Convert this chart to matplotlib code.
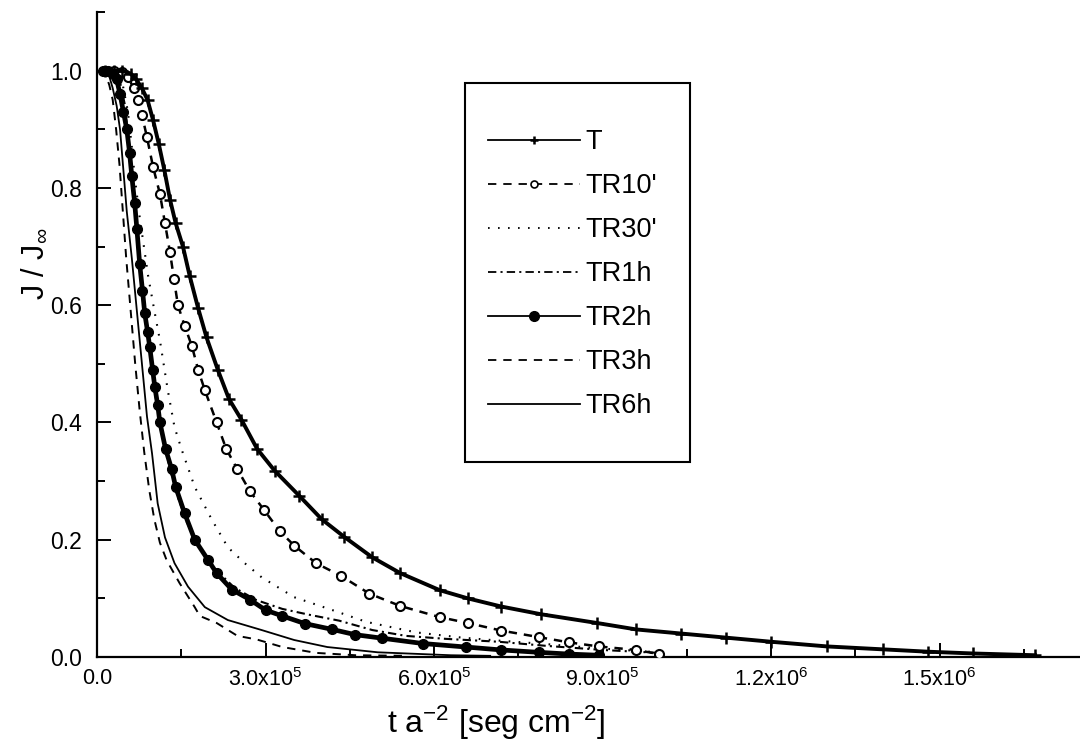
import matplotlib
matplotlib.use("Agg")
import matplotlib.pyplot as plt
from matplotlib import font_manager
from matplotlib.patches import Rectangle
from matplotlib.ticker import MultipleLocator, FixedLocator, FixedFormatter

# ---------------------------------------------------------------- data
X_SCALE = 1e5  # x values below are given in units of 1e5 seg cm^-2

T_x = [0.15, 0.30, 0.45, 0.60, 0.70, 0.80, 0.90, 1.00, 1.10, 1.20, 1.30, 1.40,
       1.53, 1.65, 1.80, 1.95, 2.15, 2.35, 2.57, 2.85, 3.16, 3.60, 4.00, 4.40,
       4.90, 5.40, 6.10, 6.60, 7.20, 7.90, 8.90, 9.60, 10.4, 11.2, 12.0, 13.0,
       14.0, 14.8, 15.6, 16.7]
T_y = [1.000, 1.000, 1.000, 0.995, 0.985, 0.970, 0.950, 0.915, 0.875, 0.830,
       0.780, 0.740, 0.700, 0.650, 0.595, 0.545, 0.490, 0.440, 0.405, 0.355,
       0.318, 0.275, 0.235, 0.205, 0.170, 0.143, 0.114, 0.100, 0.086, 0.073,
       0.058, 0.047, 0.040, 0.033, 0.026, 0.018, 0.013, 0.009, 0.006, 0.003]

TR10_x = [0.15, 0.30, 0.45, 0.55, 0.65, 0.73, 0.80, 0.89, 1.00, 1.12, 1.21,
          1.30, 1.37, 1.44, 1.56, 1.69, 1.80, 1.92, 2.13, 2.30, 2.50, 2.72,
          2.98, 3.25, 3.51, 3.90, 4.35, 4.85, 5.40, 6.10, 6.60, 7.20, 7.86,
          8.40, 8.93, 9.60, 10.0]
TR10_y = [1.000, 1.000, 0.998, 0.990, 0.970, 0.950, 0.925, 0.886, 0.835, 0.790,
          0.740, 0.690, 0.645, 0.600, 0.565, 0.530, 0.490, 0.455, 0.400, 0.355,
          0.320, 0.283, 0.250, 0.215, 0.190, 0.160, 0.138, 0.108, 0.087, 0.068,
          0.058, 0.045, 0.034, 0.025, 0.018, 0.012, 0.005]

TR30_x = [0.10, 0.30, 0.45, 0.55, 0.62, 0.67, 0.76, 0.91, 1.03, 1.12, 1.26,
          1.38, 1.51, 1.74, 2.04, 2.33, 2.63, 2.93, 3.51, 4.19, 4.79, 5.68,
          6.50, 7.15, 8.00, 8.90, 10.0]
TR30_y = [1.000, 1.000, 0.980, 0.930, 0.870, 0.820, 0.750, 0.650, 0.586, 0.540,
          0.455, 0.392, 0.353, 0.290, 0.235, 0.187, 0.160, 0.136, 0.102, 0.080,
          0.060, 0.042, 0.033, 0.028, 0.022, 0.015, 0.008]

TR1h_x = [0.10, 0.25, 0.40, 0.50, 0.58, 0.65, 0.72, 0.80, 0.88, 0.96, 1.05,
          1.15, 1.30, 1.45, 1.60, 1.80, 2.10, 2.45, 2.84, 3.30, 3.78, 4.31,
          4.90, 5.50, 6.20, 7.15, 8.00, 9.00, 10.0]
TR1h_y = [1.000, 1.000, 0.985, 0.940, 0.860, 0.790, 0.710, 0.630, 0.565, 0.505,
          0.440, 0.385, 0.320, 0.270, 0.230, 0.190, 0.150, 0.118, 0.097, 0.082,
          0.072, 0.062, 0.046, 0.036, 0.031, 0.026, 0.019, 0.012, 0.007]

TR2h_x = [0.10, 0.20, 0.28, 0.35, 0.41, 0.47, 0.53, 0.58, 0.62, 0.67, 0.71,
          0.76, 0.81, 0.85, 0.90, 0.94, 0.99, 1.03, 1.08, 1.12, 1.22, 1.33,
          1.40, 1.56, 1.74, 1.98, 2.13, 2.40, 2.72, 3.00, 3.30, 3.70, 4.19,
          4.60, 5.08, 5.80, 6.57, 7.20, 7.86, 8.40, 8.93]
TR2h_y = [1.000, 1.000, 0.995, 0.985, 0.960, 0.930, 0.900, 0.860, 0.820, 0.775,
          0.730, 0.670, 0.625, 0.586, 0.555, 0.528, 0.490, 0.460, 0.430, 0.400,
          0.355, 0.320, 0.290, 0.245, 0.200, 0.165, 0.143, 0.115, 0.098, 0.080,
          0.070, 0.057, 0.047, 0.038, 0.032, 0.023, 0.017, 0.012, 0.008, 0.005,
          0.003]

TR3h_x = [0.05, 0.15, 0.22, 0.28, 0.34, 0.40, 0.46, 0.52, 0.60, 0.68, 0.76,
          0.84, 0.93, 1.02, 1.12, 1.24, 1.47, 1.74, 1.83, 2.13, 2.50, 2.84,
          3.30, 3.90, 4.60, 5.50]
TR3h_y = [1.000, 0.995, 0.975, 0.950, 0.900, 0.840, 0.760, 0.680, 0.590, 0.500,
          0.420, 0.350, 0.285, 0.235, 0.195, 0.165, 0.126, 0.085, 0.070, 0.058,
          0.036, 0.030, 0.017, 0.007, 0.003, 0.002]

TR6h_x = [0.05, 0.15, 0.22, 0.28, 0.35, 0.41, 0.47, 0.53, 0.62, 0.71, 0.80,
          0.89, 0.98, 1.08, 1.21, 1.38, 1.62, 1.92, 2.33, 2.93, 3.51, 4.10,
          5.00, 6.30, 7.00]
TR6h_y = [1.000, 1.000, 0.990, 0.970, 0.940, 0.900, 0.830, 0.760, 0.680, 0.590,
          0.500, 0.410, 0.347, 0.262, 0.204, 0.160, 0.120, 0.085, 0.063, 0.046,
          0.029, 0.017, 0.008, 0.003, 0.002]

labels = ["T", "TR10'", "TR30'", "TR1h", "TR2h", "TR3h", "TR6h"]

x_ticks = [0.0, 3.0e5, 6.0e5, 9.0e5, 1.2e6, 1.5e6]
x_tick_labels = ["0.0", r"3.0x10$^{5}$", r"6.0x10$^{5}$", r"9.0x10$^{5}$",
                 r"1.2x10$^{6}$", r"1.5x10$^{6}$"]
y_ticks = [0.0, 0.2, 0.4, 0.6, 0.8, 1.0]
y_tick_labels = ["0.0", "0.2", "0.4", "0.6", "0.8", "1.0"]

# ---------------------------------------------------------------- style
installed = {f.name for f in font_manager.fontManager.ttflist}
base_font = "Liberation Sans"
tick_font = "Liberation Sans Narrow" if "Liberation Sans Narrow" in installed else base_font

plt.rcParams.update({
    "font.family": [base_font, "DejaVu Sans"],
    "mathtext.fontset": "custom",
    "mathtext.rm": base_font,
    "mathtext.it": base_font,
    "mathtext.bf": base_font,
    "mathtext.sf": base_font,
    "lines.scale_dashes": False,
})

fig = plt.figure(figsize=(10.8, 7.46), dpi=100)
ax = fig.add_axes([97 / 1080, 89 / 746, 983 / 1080, 645 / 746])


def sx(vals):
    return [v * X_SCALE for v in vals]


ax.plot(sx(T_x), T_y, color="black", lw=2.8, ls="-", marker="+", ms=9, mew=1.8,
        label=labels[0], zorder=5)
ax.plot(sx(TR10_x), TR10_y, color="black", lw=1.8, ls=(0, (6, 5)), marker="o",
        ms=6.5, mfc="white", mec="black", mew=1.5, label=labels[1], zorder=4)
ax.plot(sx(TR30_x), TR30_y, color="black", lw=1.5, ls=(0, (1.2, 6)),
        label=labels[2], zorder=3)
ax.plot(sx(TR1h_x), TR1h_y, color="black", lw=1.5, ls=(0, (6, 3, 1.5, 3)),
        label=labels[3], zorder=3)
ax.plot(sx(TR2h_x), TR2h_y, color="black", lw=3.4, ls="-", marker="o", ms=7,
        mfc="black", mec="black", label=labels[4], zorder=4)
ax.plot(sx(TR3h_x), TR3h_y, color="black", lw=1.4, ls=(0, (6, 5)),
        label=labels[5], zorder=3)
ax.plot(sx(TR6h_x), TR6h_y, color="black", lw=1.3, ls="-",
        label=labels[6], zorder=3)

ax.set_xlim(0, 1.75e6)
ax.set_ylim(0, 1.1)

for side in ("top", "right"):
    ax.spines[side].set_visible(False)
for side in ("left", "bottom"):
    ax.spines[side].set_linewidth(1.6)

ax.xaxis.set_major_locator(FixedLocator(x_ticks))
ax.xaxis.set_major_formatter(FixedFormatter(x_tick_labels))
ax.xaxis.set_minor_locator(MultipleLocator(1.5e5))
ax.yaxis.set_major_locator(FixedLocator(y_ticks))
ax.yaxis.set_major_formatter(FixedFormatter(y_tick_labels))
ax.yaxis.set_minor_locator(MultipleLocator(0.1))

ax.tick_params(which="both", direction="in", width=1.4, top=False, right=False)
ax.tick_params(which="major", length=10)
ax.tick_params(which="minor", length=5.5)
ax.tick_params(axis="x", which="major", pad=8)
ax.tick_params(axis="y", which="major", pad=11)
for lab in ax.get_xticklabels():
    lab.set_fontfamily([tick_font, "DejaVu Sans"])
    lab.set_fontsize(15.5)
for lab in ax.get_yticklabels():
    lab.set_fontfamily([tick_font, "DejaVu Sans"])
    lab.set_fontsize(16.5)

ax.set_xlabel(r"t a$^{\mathregular{-2}}$ [seg cm$^{\mathregular{-2}}$]", fontsize=23)
ax.xaxis.set_label_coords(0.406, -0.072)
ax.set_ylabel(r"J / J$_{\infty}$", fontsize=22)
ax.yaxis.set_label_coords(-0.048, 0.61)

# legend (frame drawn separately as a plain rectangle)
leg = ax.legend(loc="upper left", bbox_to_anchor=(488 / 1080, 1 - 129 / 746),
                bbox_transform=fig.transFigure, frameon=False, fontsize=19.5,
                handlelength=3.4, handletextpad=0.2, labelspacing=0.665,
                borderpad=0, borderaxespad=0, numpoints=1)
for h in leg.legend_handles:
    h.set_linewidth(1.3)
leg.legend_handles[0].set_markersize(6)
leg.legend_handles[1].set_markersize(5)
leg.legend_handles[1].set_markeredgewidth(1.2)
leg.legend_handles[4].set_markersize(7)

fig.patches.append(Rectangle((465 / 1080, 1 - 462 / 746), 225 / 1080, 379 / 746,
                             transform=fig.transFigure, fill=False,
                             edgecolor="black", linewidth=1.5))

fig.savefig("out.png", dpi=100)
